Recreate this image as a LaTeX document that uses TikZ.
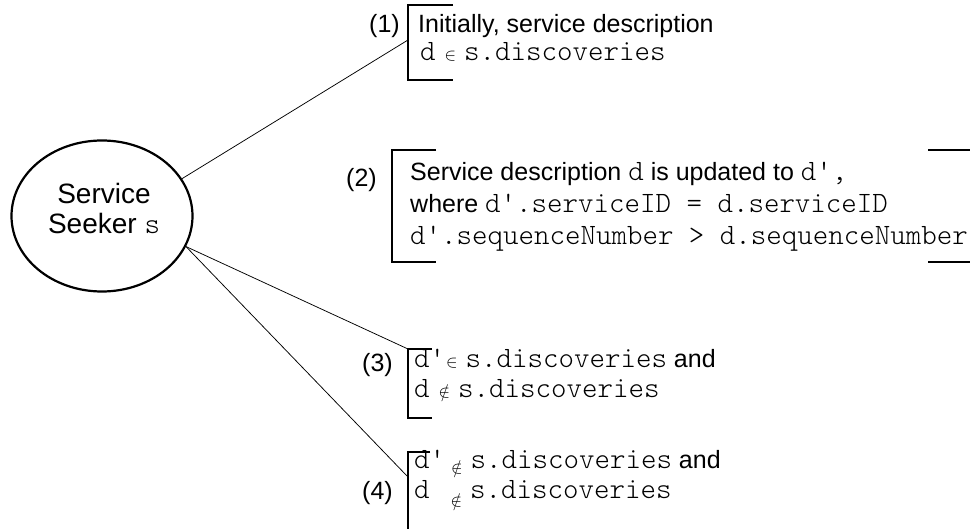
\documentclass[tikz,border=0pt]{standalone}
\usepackage{fontspec}
\setmainfont{Liberation Sans}
\newfontfamily\codefont{lmmonolt10-regular.otf}
\usetikzlibrary{shapes.geometric}

\tikzset{
  bracket/.style={line width=1.5pt},
  link/.style={line width=0.75pt},
  txt/.style={anchor=base west, inner sep=0pt, font=\fontsize{25}{30}\selectfont},
  num/.style={anchor=base east, inner sep=0pt, font=\fontsize{25}{30}\selectfont},
}
\newcommand{\cd}[1]{{\fontsize{29.5}{31}\codefont #1}}
\newcommand{\smin}{{\fontsize{17}{17}\selectfont$\in$}}
\newcommand{\smnotin}{{\fontsize{17}{17}\selectfont$\notin$}}

\begin{document}
\begin{tikzpicture}[x=1pt, y=-1pt]
    \useasboundingbox (0,0) rectangle (970,529);

    % service seeker
    \node[draw, ellipse, line width=2.2pt, minimum width=181pt, minimum height=151pt,
          inner sep=0pt] (seeker) at (102,216) {};
    \node[align=center, inner sep=0pt, font=\fontsize{28}{30}\selectfont]
          (seekerlabel) at (104,208) {Service\\Seeker \cd{s}};

    % bracket (1)
    \coordinate (b1) at (408,40);
    \draw[bracket] (453,5) -- (408,5) -- (408,80) -- (453,80);
    \node[num] (n1) at (400,33) {(1)};
    \node[txt] (t1a) at (418,33) {Initially, service description};
    \node[txt] (t1b) at (420,61) {\cd{d}\hspace{9pt}\smin\hspace{8pt}\cd{s.discoveries}};

    % bracket (2)
    \draw[bracket] (436,150) -- (392,150) -- (392,262) -- (436,262);
    \draw[bracket] (928,150) -- (973,150) -- (973,262) -- (928,262);
    \node[num] (n2) at (377,187) {(2)};
    \node[txt] (t2a) at (410,181) {Service description \cd{d} is updated to \cd{d',}};
    \node[txt] (t2b) at (410,213) {where \cd{d'.serviceID = d.serviceID}};
    \node[txt] (t2c) at (410,245) {\cd{d'.sequenceNumber > d.sequenceNumber}};

    % bracket (3)
    \coordinate (b3) at (408,349);
    \draw[bracket] (432,349) -- (408,349) -- (408,418) -- (432,418);
    \node[num] (n3) at (393,372) {(3)};
    \node[txt] (t3a) at (414,368) {\cd{d'}\hspace{1pt}\smin\hspace{8pt}\cd{s.discoveries} and};
    \node[txt] (t3b) at (414,398) {\cd{d}\hspace{9pt}\smnotin\hspace{8pt}\cd{s.discoveries}};

    % bracket (4)
    \coordinate (b4) at (408,477);
    \draw[bracket] (430,452) -- (408,452) -- (408,540);
    \node[num] (n4) at (393,500) {(4)};
    \node[txt] (t4a) at (414,468) {\cd{d'}\hspace{6pt}\raisebox{-5pt}{\smnotin}\hspace{8pt}\cd{s.discoveries} and};
    \node[txt] (t4b) at (414,498) {\cd{d}\hspace{21pt}\raisebox{-8pt}{\smnotin}\hspace{8pt}\cd{s.discoveries}};

    % links
    \draw[link] (seeker.25) -- (b1);
    \draw[link] (seeker.-20) -- (b3);
    \draw[link] (seeker.-20) -- (b4);

\end{tikzpicture}
\end{document}
